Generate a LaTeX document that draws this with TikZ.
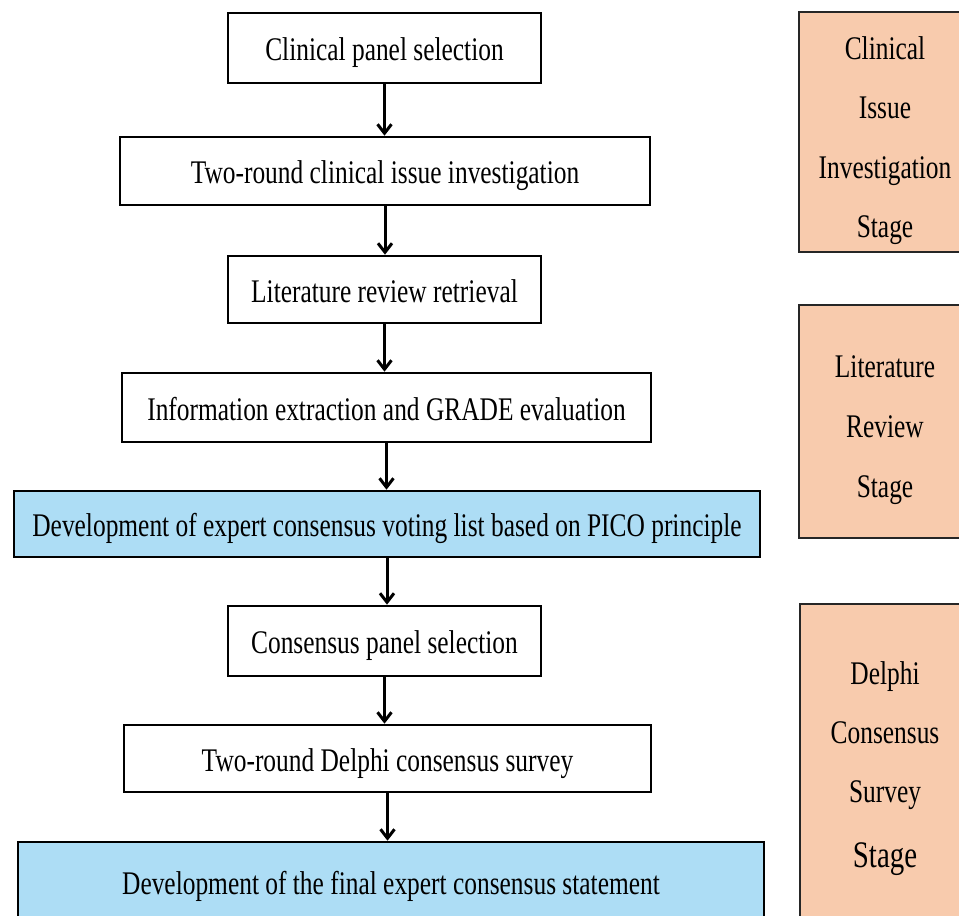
\documentclass[tikz,border=0pt]{standalone}
\usepackage{fontspec}
\setmainfont{Liberation Serif}[FakeStretch=0.77]
\usetikzlibrary{arrows.meta}
\definecolor{boxblue}{RGB}{173,221,245}
\definecolor{stageorange}{RGB}{248,203,173}
\begin{document}
\begin{tikzpicture}[x=1pt,y=-1pt,
  stepbox/.style={draw=black, line width=2.6pt, fill=white, font=\fontsize{33}{40}\selectfont, inner sep=0pt, text height=25pt, text depth=0pt},
  bluebox/.style={stepbox, fill=boxblue},
  panel/.style={draw=black!85, line width=1.4pt, fill=stageorange, inner sep=0pt},
  paneltext/.style={anchor=base, font=\fontsize{33}{40}\selectfont, inner sep=0pt},
  bigtext/.style={anchor=base, font=\fontsize{37.5}{44}\selectfont, inner sep=0pt},
  flow/.style={line width=3pt, -{Straight Barb[length=9pt,width=14pt,line width=3pt]}}]
\useasboundingbox (0,0) rectangle (959,916);

% main flow boxes
\node[stepbox, minimum width=313pt, minimum height=70pt] (b1) at (384.5,48) {Clinical panel selection};
\node[stepbox, minimum width=530pt, minimum height=68pt] (b2) at (385,171) {Two-round clinical issue investigation};
\node[stepbox, minimum width=313pt, minimum height=67pt] (b3) at (384.5,289.5) {Literature review retrieval};
\node[stepbox, minimum width=529pt, minimum height=69pt] (b4) at (386.5,407.5) {Information extraction and GRADE evaluation};
\node[bluebox, minimum width=746pt, minimum height=66pt] (b5) at (387,524) {Development of expert consensus voting list based on PICO principle};
\node[stepbox, minimum width=313pt, minimum height=70pt] (b6) at (384.5,641) {Consensus panel selection};
\node[stepbox, minimum width=527pt, minimum height=67pt] (b7) at (387.5,758.5) {Two-round Delphi consensus survey};
\node[bluebox, minimum width=746pt, minimum height=80pt] (b8) at (391,882) {Development of the final expert consensus statement};

% connectors
\draw[flow] (b1.south) -- (b1.south |- b2.north);
\draw[flow] (b2.south) -- (b2.south |- b3.north);
\draw[flow] (b3.south) -- (b3.south |- b4.north);
\draw[flow] (b4.south) -- (b4.south |- b5.north);
\draw[flow] (b5.south) -- (b5.south |- b6.north);
\draw[flow] (b6.south) -- (b6.south |- b7.north);
\draw[flow] (b7.south) -- (b7.south |- b8.north);

% stage panels
\node[panel, minimum width=172pt, minimum height=240pt] (p1) at (885,132) {};
\node[paneltext] (p1a) at (885,59) {Clinical};
\node[paneltext] (p1b) at (885,118) {Issue};
\node[paneltext] (p1c) at (885,178) {Investigation};
\node[paneltext] (p1d) at (885,237) {Stage};

\node[panel, minimum width=172pt, minimum height=233pt] (p2) at (885,421.5) {};
\node[paneltext] (p2a) at (885,377) {Literature};
\node[paneltext] (p2b) at (885,437) {Review};
\node[paneltext] (p2c) at (885,497) {Stage};

\node[panel, minimum width=172pt, minimum height=330pt] (p3) at (886,769) {};
\node[paneltext] (p3a) at (885,684) {Delphi};
\node[paneltext] (p3b) at (885,743) {Consensus};
\node[paneltext] (p3c) at (885,802) {Survey};
\node[bigtext] (p3d) at (885,867) {Stage};
\end{tikzpicture}
\end{document}
